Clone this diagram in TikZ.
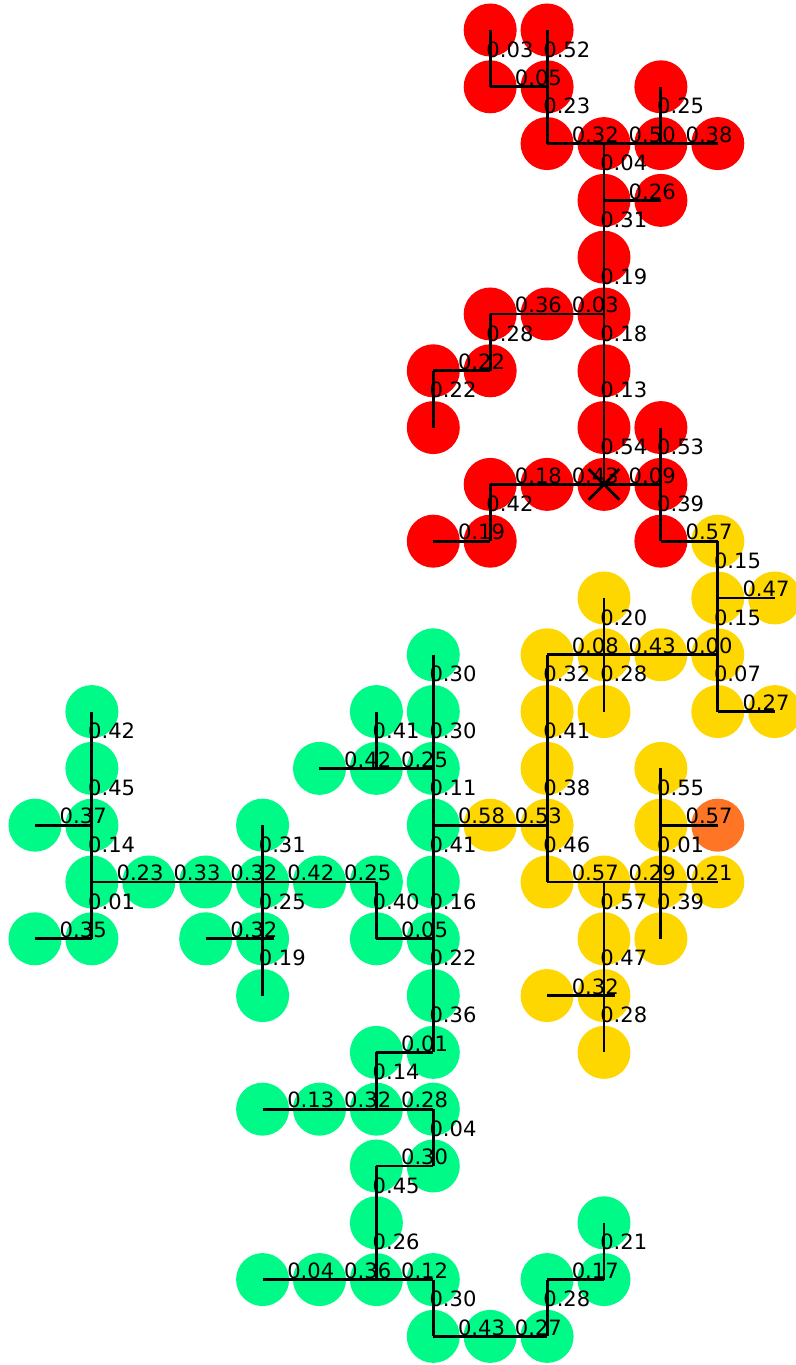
\documentclass[tikz,border=0pt]{standalone}
\usepackage{fontspec}
\setmainfont{DejaVu Sans}
\definecolor{clred}{RGB}{255,0,0}
\definecolor{clgold}{RGB}{255,215,0}
\definecolor{clgreen}{RGB}{0,250,135}
\definecolor{clorange}{RGB}{255,117,38}
% bonds: site/site/weight
\newcommand{\bondlist}{8-0/8-1/0.03, 9-0/9-1/0.52, 8-1/9-1/0.05, 9-1/9-2/0.23,
 9-2/10-2/0.32, 10-2/11-2/0.50, 11-2/12-2/0.38, 11-1/11-2/0.25, 10-2/10-3/0.04,
 10-3/11-3/0.26, 10-3/10-4/0.31, 10-4/10-5/0.19, 9-5/10-5/0.03, 8-5/9-5/0.36,
 8-5/8-6/0.28, 7-6/8-6/0.22, 7-6/7-7/0.22, 10-5/10-6/0.18, 10-6/10-7/0.13,
 10-7/10-8/0.54, 11-7/11-8/0.53, 10-8/11-8/0.09, 9-8/10-8/0.43, 8-8/9-8/0.18,
 8-8/8-9/0.42, 7-9/8-9/0.19, 11-8/11-9/0.39, 11-9/12-9/0.57,
 12-9/12-10/0.15, 12-10/13-10/0.47, 12-10/12-11/0.15, 11-11/12-11/0.00,
 10-11/11-11/0.43, 9-11/10-11/0.08, 10-10/10-11/0.20, 10-11/10-12/0.28,
 9-11/9-12/0.32, 12-11/12-12/0.07, 12-12/13-12/0.27, 9-12/9-13/0.41,
 9-13/9-14/0.38, 8-14/9-14/0.53, 7-14/8-14/0.58, 9-14/9-15/0.46,
 9-15/10-15/0.57, 10-15/11-15/0.29, 11-15/12-15/0.21, 11-13/11-14/0.55,
 11-14/12-14/0.57, 11-14/11-15/0.01, 11-15/11-16/0.39, 10-15/10-16/0.57,
 10-16/10-17/0.47, 9-17/10-17/0.32, 10-17/10-18/0.28,
 7-11/7-12/0.30, 7-12/7-13/0.30, 6-12/6-13/0.41, 5-13/6-13/0.42,
 6-13/7-13/0.25, 7-13/7-14/0.11, 7-14/7-15/0.41, 7-15/7-16/0.16,
 6-16/7-16/0.05, 6-15/6-16/0.40, 5-15/6-15/0.25, 4-15/5-15/0.42,
 3-15/4-15/0.32, 2-15/3-15/0.33, 1-15/2-15/0.23, 4-14/4-15/0.31,
 4-15/4-16/0.25, 3-16/4-16/0.32, 4-16/4-17/0.19, 1-12/1-13/0.42,
 1-13/1-14/0.45, 0-14/1-14/0.37, 1-14/1-15/0.14, 1-15/1-16/0.01,
 0-16/1-16/0.35, 7-16/7-17/0.22, 7-17/7-18/0.36, 6-18/7-18/0.01,
 6-18/6-19/0.14, 5-19/6-19/0.32, 4-19/5-19/0.13, 6-19/7-19/0.28,
 7-19/7-20/0.04, 6-20/7-20/0.30, 6-20/6-21/0.45, 6-21/6-22/0.26,
 5-22/6-22/0.36, 4-22/5-22/0.04, 6-22/7-22/0.12, 7-22/7-23/0.30,
 7-23/8-23/0.43, 8-23/9-23/0.27, 9-22/9-23/0.28, 9-22/10-22/0.17,
 10-21/10-22/0.21}

\begin{document}
\begin{tikzpicture}[x=1.4225cm,y=-1.42cm,
 site/.style={circle,minimum size=1.325cm,inner sep=0pt},
 bond/.style={line width=2.1pt},
 wt/.style={anchor=base west,inner sep=0pt,xshift=-0.1cm,yshift=0.03cm,
  font=\fontsize{15}{18}\selectfont}]
\useasboundingbox (-0.615,-0.528) rectangle (13.374,23.504);
% sites
\foreach \i/\j in {8/0,9/0,8/1,9/1,11/1,9/2,10/2,11/2,12/2,10/3,11/3,10/4,
 8/5,9/5,10/5,7/6,8/6,10/6,7/7,10/7,11/7,8/8,9/8,10/8,11/8,7/9,8/9,11/9}
 \node[site,fill=clred] (n\i-\j) at (\i,\j) {};
\foreach \i/\j in {12/9,12/10,13/10,10/10,9/11,10/11,11/11,12/11,9/12,10/12,
 12/12,13/12,9/13,11/13,8/14,9/14,11/14,9/15,10/15,11/15,12/15,10/16,11/16,
 9/17,10/17,10/18}
 \node[site,fill=clgold] (n\i-\j) at (\i,\j) {};
\node[site,fill=clorange] (n12-14) at (12,14) {};
\foreach \i/\j in {7/11,6/12,7/12,1/12,5/13,6/13,7/13,1/13,0/14,1/14,4/14,
 7/14,1/15,2/15,3/15,4/15,5/15,6/15,7/15,0/16,1/16,3/16,4/16,6/16,7/16,4/17,
 7/17,6/18,7/18,4/19,5/19,6/19,7/19,6/20,7/20,6/21,10/21,4/22,5/22,6/22,
 7/22,9/22,10/22,7/23,8/23,9/23}
 \node[site,fill=clgreen] (n\i-\j) at (\i,\j) {};
% bonds, then weights on top
\foreach \a/\b/\w in \bondlist
 \draw[bond] (n\a.center) -- (n\b.center);
\draw[bond] (n4-16.center) -- ([xshift=0.29cm]n4-16.center);
\draw[bond] (n10-17.center) -- ([xshift=0.28cm]n10-17.center);
\draw[bond] (n10-8.center) +(-0.27,-0.27) -- +(0.27,0.27)
 (n10-8.center) +(-0.27,0.27) -- +(0.27,-0.27);
\foreach \a/\b/\w in \bondlist
 \path (n\a.center) -- node[wt] {\w} (n\b.center);
\end{tikzpicture}
\end{document}
